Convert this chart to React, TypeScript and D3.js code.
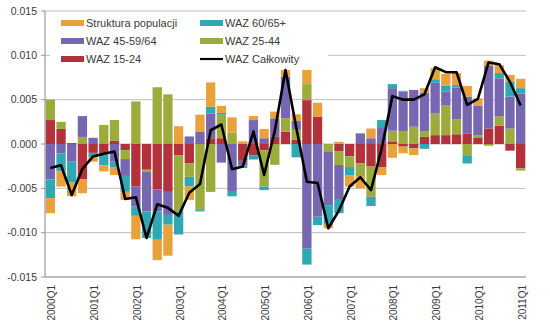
import React from "react";
import * as d3 from "d3";

// ---------- data ----------
const years = d3.range(2000, 2012);
const quarters: string[] = [];
years.forEach((y) => {
  [1, 2, 3, 4].forEach((q) => {
    if (y < 2011 || q === 1) quarters.push(`${y}Q${q}`);
  });
});

const xTickLabels = [
  "2000Q1", "2001Q1", "2002Q1", "2003Q1", "2004Q1", "2005Q1",
  "2006Q1", "2007Q1", "2008Q1", "2009Q1", "2010Q1", "2011Q1",
];
const yTicks = [-0.015, -0.01, -0.005, 0, 0.005, 0.01, 0.015];

// WAZ 15-24
const waz1524 = [
  0.0027, 0.0017, 0.0001, -0.004, -0.001, -0.0011, 0.00035, -0.0007, -0.0048, -0.0029,
  -0.0051, -0.0054, -0.0013, -0.0022, 0, 0.00065, 0.00065, 0, -0.0019, -0.0013,
  -0.0007, 0.0008, 0.0014, 0.0005, 0.00495, 0.0031, 0, -0.00085, -0.0014, -0.0022,
  -0.00255, -0.0026, 0.0003, -0.0003, -0.0005, 0.0008, 0.001, 0.001, 0.0011, 0.00115,
  0.00075, 0.00175, 0.00205, -0.00075, -0.00275,
];
// WAZ 25-44
const waz2544 = [
  0.0023, 0.0008, 0, 0.0008, 0, 0.00215, 0.00235, -0.001, 0.0048, -0.0002,
  0.0064, 0.0056, -0.0063, -0.0015, -0.00745, -0.0054, 0.00265, 0.0013, 0, 0,
  -0.0041, -0.00235, 0.0015, 0.0011, 0.0018, 0, -0.0009, -0.0015, -0.0012, -0.0015,
  -0.0034, 0, 0.0012, 0.0014, 0.00195, 0.0006, 0.0025, 0.0034, 0.0017, -0.00135,
  0.00025, -0.0002, 0.00105, 0.00175, -0.00025,
];
// WAZ 45-59/64
const waz4559 = [
  -0.004, -0.00105, -0.002, 0.00235, 0.0007, 0, -0.002, -0.0019, -0.00225, -0.0045,
  -0.0025, -0.0026, 0, 0.00085, 0.0014, 0.0028, -0.0021, -0.0053, -0.0005, 0.0027,
  0.00065, 0.0021, 0.0047, 0.001, -0.0118, -0.0082, -0.006, -0.00395, 0, 0.0012,
  0.00065, 0.0018, 0.0048, 0.0045, 0.00415, 0.0044, 0.0034, 0.0015, 0.00355, 0.0042,
  0.0033, 0.00705, 0.0043, 0.0036, 0.0057,
];
// WAZ 60/65+
const waz60 = [
  -0.0021, -0.00205, -0.00235, 0, -0.0005, -0.0013, -0.0006, -0.0018, -0.00105, -0.003,
  -0.0032, -0.0011, -0.0026, -0.0011, -0.00015, 0.00075, 0.0002, -0.0006, -0.0003, -0.00045,
  -0.0004, 0, 0, -0.0015, -0.0018, -0.00095, -0.0021, -0.0015, -0.0009, 0,
  -0.00105, 0.0009, 0.00045, 0.0001, 0, -0.00055, 0.0004, 0.00065, 0.0003, -0.00085,
  0, 0, 0.0006, 0.0017, 0.0006,
];
// Struktura populacji
const struktura = [
  -0.0017, -0.0017, -0.00155, -0.00155, -0.0005, -0.0007, -0.0009, -0.0009, -0.00265, 0,
  -0.0023, -0.0035, 0.002, -0.0015, 0.0019, 0.00275, 0.0008, 0.0017, 0.0003, 0.00045,
  0.00105, 0.00075, 0.00075, 0.00075, 0.0016, 0.00155, -0.0005, 0.00025, -0.0013, -0.0013,
  0.0011, -0.0009, -0.00155, -0.00075, -0.00075, 0.0005, 0.00125, 0.00135, 0.00135, 0.0012,
  0.00085, 0.0006, 0.0009, 0.00075, 0.00105,
];
// WAZ Całkowity
const wazTotal = [
  -0.0027, -0.0024, -0.00575, -0.0028, -0.0014, -0.0011, -0.00085, -0.0062, -0.006, -0.0106,
  -0.0068, -0.0072, -0.0081, -0.0055, -0.0045, 0.00155, 0.0022, -0.00285, -0.00255, 0.0014,
  -0.0035, 0.0015, 0.00835, 0.0019, -0.00425, -0.0044, -0.0095, -0.0075, -0.0048, -0.00375,
  -0.0052, -0.0005, 0.0054, 0.005, 0.005, 0.0056, 0.00865, 0.0081, 0.0081, 0.0044,
  0.0051, 0.0092, 0.009, 0.007, 0.00435,
];

const seriesKeys = ["waz1524", "waz2544", "waz4559", "waz60", "struktura"];
const seriesNames: Record<string, string> = {
  struktura: "Struktura populacji",
  waz60: "WAZ 60/65+",
  waz4559: "WAZ 45-59/64",
  waz2544: "WAZ 25-44",
  waz1524: "WAZ 15-24",
};
const colors: Record<string, string> = {
  waz1524: "#B3313A",
  waz2544: "#9CAB3B",
  waz4559: "#7667B0",
  waz60: "#2FA8B3",
  struktura: "#E9A13B",
};

// ---------- layout ----------
const W = 550;
const H = 330;
const left = 45;
const right = 526;
const top = 11;
const bottom = 277;

export default function App() {
  const rows = quarters.map((q, i) => ({
    q,
    waz1524: waz1524[i],
    waz2544: waz2544[i],
    waz4559: waz4559[i],
    waz60: waz60[i],
    struktura: struktura[i],
  }));

  const x = d3.scaleBand<string>().domain(quarters).range([left, right]).paddingInner(0.13).paddingOuter(0.065);
  const y = d3.scaleLinear().domain([-0.015, 0.015]).range([bottom, top]);

  const stacked = d3
    .stack<any>()
    .keys(seriesKeys)
    .offset(d3.stackOffsetDiverging)(rows);

  const line = d3
    .line<number>()
    .x((_, i) => (x(quarters[i]) as number) + x.bandwidth() / 2)
    .y((d) => y(d));

  const font = "'Liberation Sans', Arial, sans-serif";
  const textColor = "#3a3a3a";

  const legendItems = [
    { key: "struktura", col: 0, row: 0 },
    { key: "waz60", col: 1, row: 0 },
    { key: "waz4559", col: 0, row: 1 },
    { key: "waz2544", col: 1, row: 1 },
    { key: "waz1524", col: 0, row: 2 },
  ];
  const colX = [61, 200];
  const rowY = [23, 41, 59];

  return (
    <svg
      width={W}
      height={H}
      style={{ position: "fixed", left: 0, top: 0, background: "#fff" }}
      fontFamily={font}
    >
      {/* gridlines */}
      {yTicks.map((t) => (
        <line key={t} x1={left} x2={right} y1={y(t)} y2={y(t)} stroke="#bdbdbd" strokeWidth={1} />
      ))}
      {/* legend background */}
      <rect x={50} y={14} width={278} height={53} fill="#fff" />

      {/* bars */}
      {stacked.map((s) => (
        <g key={s.key} fill={colors[s.key]}>
          {s.map((d, i) => {
            const y0 = y(d[0]);
            const y1 = y(d[1]);
            const h = Math.abs(y0 - y1);
            if (h < 0.01) return null;
            return (
              <rect
                key={i}
                x={x(quarters[i])}
                width={x.bandwidth()}
                y={Math.min(y0, y1)}
                height={h}
              />
            );
          })}
        </g>
      ))}

      {/* total line */}
      <path d={line(wazTotal) || ""} fill="none" stroke="#000" strokeWidth={2.6} strokeLinejoin="round" />

      {/* axes */}
      <line x1={left} x2={left} y1={top} y2={bottom} stroke="#9a9a9a" strokeWidth={1.2} />
      <line x1={left} x2={right} y1={bottom} y2={bottom} stroke="#9a9a9a" strokeWidth={1.2} />
      {yTicks.map((t) => (
        <g key={t}>
          <line x1={left - 4} x2={left} y1={y(t)} y2={y(t)} stroke="#9a9a9a" />
          <text
            x={37}
            y={y(t)}
            dy="0.35em"
            textAnchor="end"
            fontSize={10.5}
            fill={textColor}
          >
            {d3.format(".3f")(t).replace("−", "-")}
          </text>
        </g>
      ))}
      {xTickLabels.map((lab) => {
        const cx = (x(lab) as number) + x.bandwidth() / 2;
        return (
          <text
            key={lab}
            transform={`translate(${cx + 1.5},${285}) rotate(-90)`}
            dy="0.35em"
            textAnchor="end"
            fontSize={10}
            fill={textColor}
          >
            {lab}
          </text>
        );
      })}

      {/* legend */}
      {legendItems.map((it) => (
        <g key={it.key}>
          <rect x={colX[it.col]} y={rowY[it.row] - 3} width={23} height={6} fill={colors[it.key]} />
          <text x={colX[it.col] + 25} y={rowY[it.row]} dy="0.35em" fontSize={11} fill={textColor}>
            {seriesNames[it.key]}
          </text>
        </g>
      ))}
      <line x1={colX[1]} x2={colX[1] + 23} y1={rowY[2]} y2={rowY[2]} stroke="#000" strokeWidth={2.2} />
      <text x={colX[1] + 25} y={rowY[2]} dy="0.35em" fontSize={11} fill={textColor}>
        WAZ Całkowity
      </text>
    </svg>
  );
}
